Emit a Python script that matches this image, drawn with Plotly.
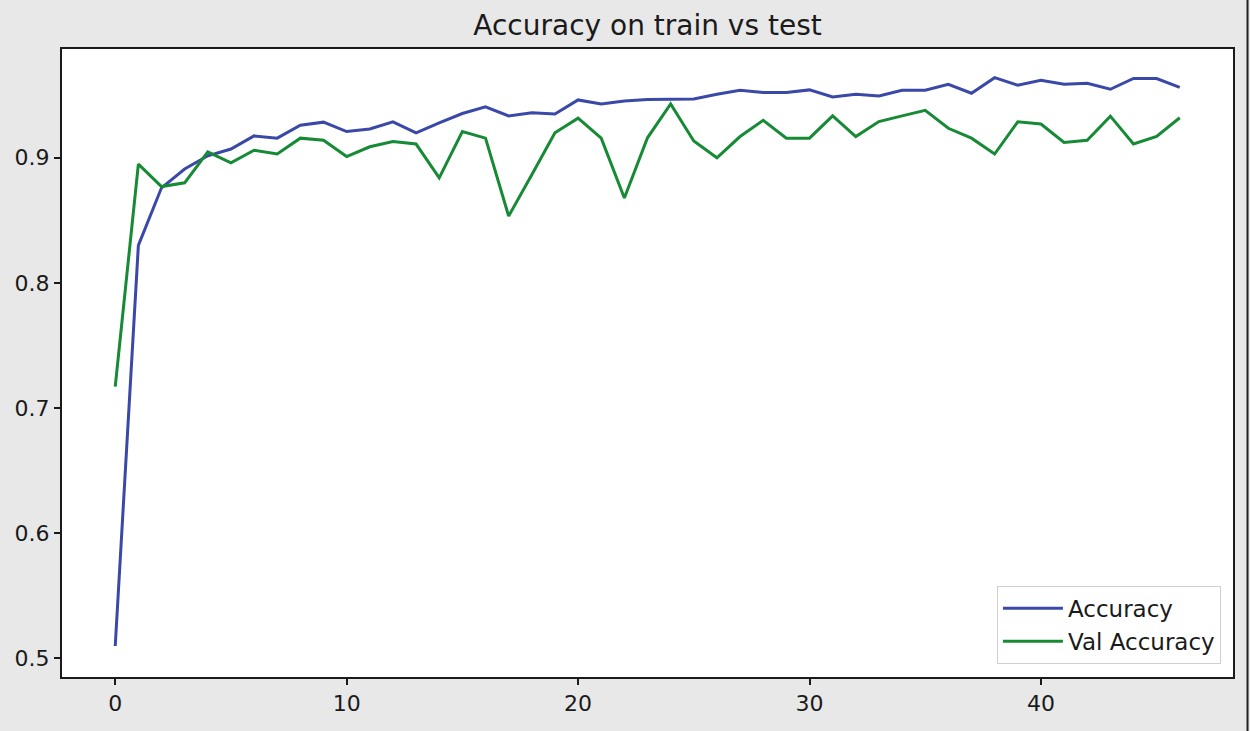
import plotly.graph_objects as go

epochs = list(range(47))
accuracy = [0.5096, 0.830, 0.876, 0.891, 0.9016, 0.907, 0.9175, 0.9157, 0.926, 0.9285,
            0.921, 0.923, 0.9288, 0.920, 0.928, 0.9354, 0.9407, 0.9335, 0.936, 0.935,
            0.9463, 0.943, 0.9455, 0.9466, 0.9468, 0.947, 0.9508, 0.954, 0.9522, 0.9522,
            0.9543, 0.9486, 0.9508, 0.9495, 0.954, 0.954, 0.9588, 0.9516, 0.9641, 0.958,
            0.962, 0.9588, 0.9596, 0.9548, 0.9634, 0.9634, 0.9563]
val_accuracy = [0.717, 0.895, 0.877, 0.880, 0.9048, 0.896, 0.906, 0.903, 0.9157, 0.914,
                0.901, 0.9088, 0.913, 0.911, 0.884, 0.921, 0.9157, 0.8534, 0.8864, 0.920,
                0.9317, 0.9157, 0.8678, 0.916, 0.943, 0.9134, 0.900, 0.917, 0.930, 0.9157,
                0.9157, 0.9335, 0.917, 0.929, 0.9335, 0.938, 0.9236, 0.9157, 0.903, 0.9288,
                0.927, 0.9122, 0.914, 0.9333, 0.911, 0.917, 0.932]

x_ticks = [0, 10, 20, 30, 40]
y_ticks = [0.5, 0.6, 0.7, 0.8, 0.9]

font_family = "DejaVu Sans, sans-serif"

fig = go.Figure()
fig.add_trace(go.Scatter(x=epochs, y=accuracy, mode="lines", name="Accuracy",
                         line=dict(color="#3a48a8", width=3)))
fig.add_trace(go.Scatter(x=epochs, y=val_accuracy, mode="lines", name="Val Accuracy",
                         line=dict(color="#168a35", width=3)))

axis_common = dict(showline=True, linecolor="#1a1a1a", linewidth=2, mirror=True,
                   showgrid=False, zeroline=False, ticks="outside", ticklen=6,
                   tickwidth=1.5, tickcolor="#1a1a1a",
                   tickfont=dict(family=font_family, size=22, color="#1a1a1a"))

fig.update_layout(
    width=1250, height=731,
    paper_bgcolor="#e8e8e8", plot_bgcolor="white",
    margin=dict(l=62, r=17, t=49, b=54),
    title=dict(text="Accuracy on train vs test", xref="paper", x=0.5, xanchor="center",
               y=1 - 25 / 731, yanchor="middle",
               font=dict(family=font_family, size=28, color="#1a1a1a")),
    xaxis=dict(range=[-2.3, 48.3], tickvals=x_ticks, **axis_common),
    yaxis=dict(range=[0.4848, 0.987], tickvals=y_ticks, tickformat=".1f", **axis_common),
    legend=dict(x=0.9897, y=0.021, xanchor="right", yanchor="bottom",
                bgcolor="white", bordercolor="#d0d0d0", borderwidth=1,
                font=dict(family=font_family, size=23, color="#1a1a1a"),
                itemwidth=60, tracegroupgap=2),
    showlegend=True,
    shapes=[dict(type="line", xref="paper", yref="paper",
                 x0=1.0124, x1=1.0124, y0=-0.09, y1=1.08,
                 line=dict(color="#222222", width=2))],
)

fig.write_html(
    "out.html",
    config={"displayModeBar": False},
    post_script="document.body.style.margin='0';document.body.style.overflow='hidden';"
                "document.body.style.background='#e8e8e8';",
)
